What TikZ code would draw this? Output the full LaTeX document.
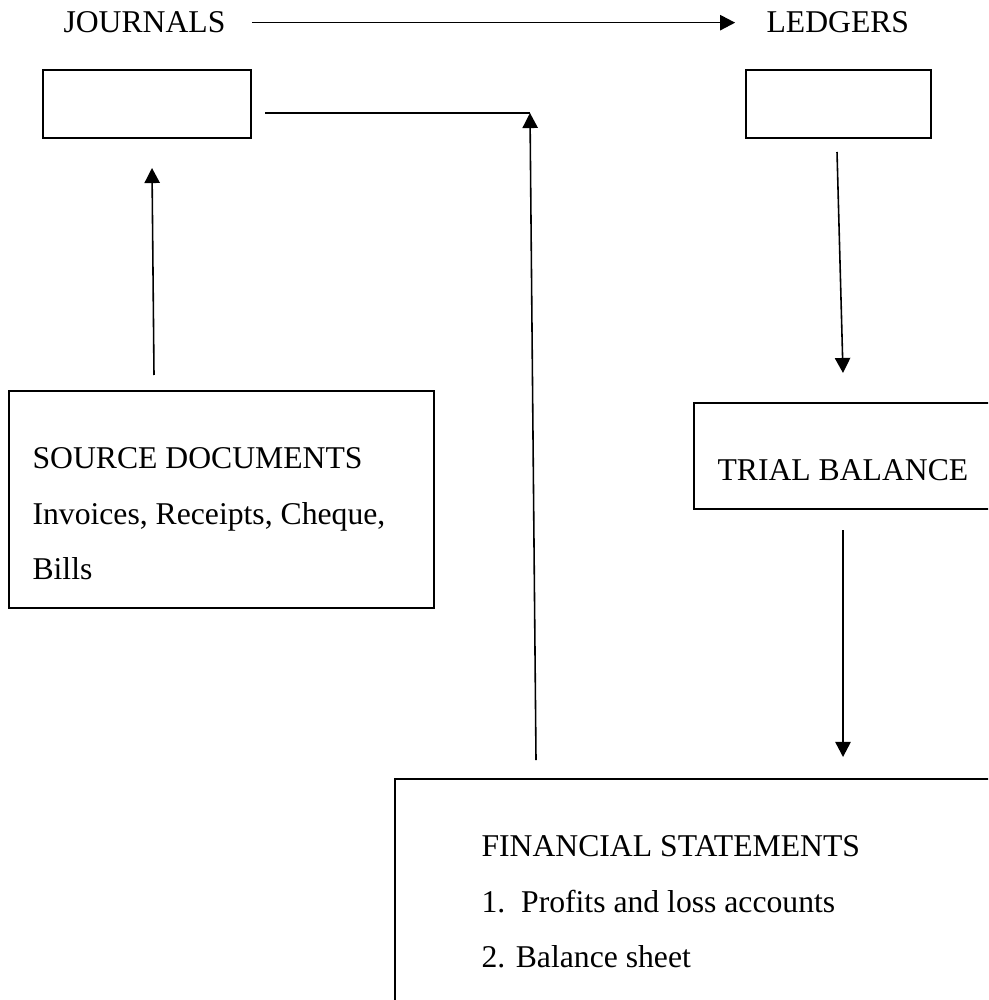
\documentclass[tikz,border=0pt]{standalone}
\usepackage{fontspec}
\setmainfont{Liberation Serif}
\usetikzlibrary{arrows.meta}
\begin{document}
\begin{tikzpicture}[x=0.3788pt, y=-0.3788pt,
      box/.style={draw, line width=0.7pt, inner sep=0pt},
      txt/.style={anchor=base west, inner sep=0pt, font=\fontsize{12pt}{14pt}\selectfont},
      arr/.style={-{Triangle[length=5.7pt,width=5.8pt]}, line width=0.6pt}]
      \useasboundingbox (0,0) rectangle (988,1000);
      \clip (0,0) rectangle (988,1000);
      \node[txt] (JR) at (63,33) {JOURNALS};
      \node[txt] (LG) at (766,33) {LEDGERS};
      \node[box, minimum width=78.8pt, minimum height=25.8pt] (JB) at (147,104) {};
      \node[box, minimum width=70.1pt, minimum height=25.8pt] (LB) at (838.5,104) {};
      \node[box, minimum width=161pt, minimum height=82.2pt] (SB) at (221.5,499.5) {};
      \node[txt] (S1) at (32,469) {SOURCE DOCUMENTS};
      \node[txt] (S2) at (32,524) {Invoices, Receipts, Cheque,};
      \node[txt] (S3) at (32,579) {Bills};
      \node[box, minimum width=119.7pt, minimum height=40.2pt] (TB) at (852,456) {};
      \node[txt] (T1) at (717,480) {TRIAL BALANCE};
      \node[box, minimum width=233pt, minimum height=89.4pt] (FB) at (702.5,897) {};
      \node[txt] (F1) at (481,856) {FINANCIAL STATEMENTS};
      \node[txt] (F2) at (481,912) {1.\ \ Profits and loss accounts};
      \node[txt] (F3) at (481,967) {2. Balance sheet};
      \coordinate (s1) at (154,375);
      \coordinate (s2) at (152,168);
      \coordinate (j1) at (265,113);
      \coordinate (j2) at (530,113);
      \coordinate (f1) at (536,760);
      \coordinate (l1) at (837,152);
      \coordinate (l2) at (843,373);
      \coordinate (t1) at (843,530);
      \coordinate (t2) at (843,757);
      \draw[arr, shorten <=9.8pt, shorten >=11.7pt] (JR.east) -- (LG.west);
      \draw[arr] (s1) -- (s2);
      \draw[line width=0.6pt] (j1) -- (j2);
      \draw[arr] (f1) -- (j2);
      \draw[arr] (l1) -- (l2);
      \draw[arr] (t1) -- (t2);
\end{tikzpicture}
\end{document}
